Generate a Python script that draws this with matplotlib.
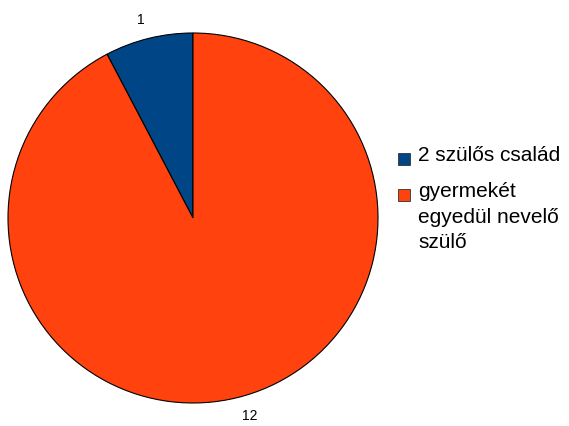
import matplotlib.pyplot as plt
from matplotlib.patches import Rectangle

# adatok
kategoriak = ["2 szülős család", "gyermekét\negyedül nevelő\nszülő"]
ertekek = [1, 12]
cimkek = ["1", "12"]
szinek = ["#004586", "#ff420e"]

plt.rcParams["font.family"] = ["Liberation Sans", "DejaVu Sans"]

W, H = 569, 426
fig = plt.figure(figsize=(W / 100, H / 100), dpi=100)
ax = fig.add_axes([8 / W, 23 / H, 370 / W, 370 / H])

wedges, texts = ax.pie(ertekek, labels=cimkek, colors=szinek, startangle=90,
                       counterclock=True, labeldistance=1.1,
                       wedgeprops={"linewidth": 0.8, "edgecolor": "black"},
                       textprops={"fontsize": 10, "color": "black"})
ax.set_xlim(-1, 1)
ax.set_ylim(-1, 1)
ax.set_aspect("equal")
ax.axis("off")

# jelmagyarázat kézzel (a négyzet az első sorhoz igazodik)
jel_y = [159, 195]
for szin, szoveg, yc in zip(szinek, kategoriak, jel_y):
    fig.patches.append(Rectangle((398 / W, 1 - (yc + 6) / H), 12 / W, 12 / H,
                                 facecolor=szin, edgecolor="#333333", linewidth=0.6,
                                 transform=fig.transFigure))
    fig.text(418 / W, 1 - (yc - 13) / H, szoveg, fontsize=15, va="top", ha="left",
             linespacing=1.45)

plt.savefig("out.png", dpi=100)
